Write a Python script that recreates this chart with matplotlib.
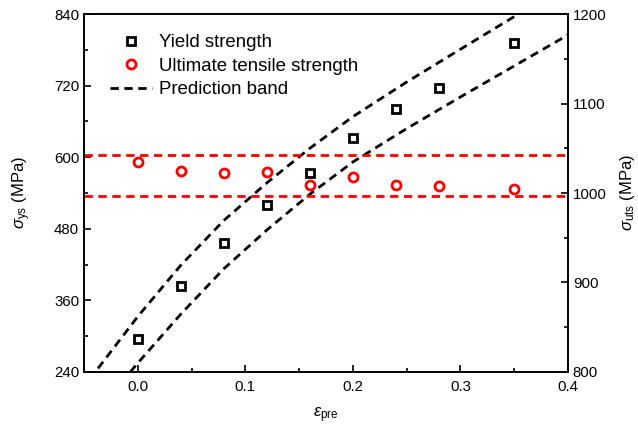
import numpy as np
import matplotlib
matplotlib.use("Agg")
import matplotlib.pyplot as plt
from matplotlib.ticker import MultipleLocator

plt.rcParams['font.family'] = ['Liberation Sans', 'DejaVu Sans']
plt.rcParams['mathtext.fontset'] = 'custom'
plt.rcParams['mathtext.rm'] = 'Liberation Sans'
plt.rcParams['mathtext.it'] = 'Liberation Sans:italic'

# pre-strain values
eps = [0.0, 0.04, 0.08, 0.12, 0.16, 0.20, 0.24, 0.28, 0.35]

# yield strength (left axis, MPa)
ys = [295, 384, 456, 520, 573, 633, 680, 716, 791]

# ultimate tensile strength (right axis, MPa)
uts = [1035, 1025, 1022, 1024, 1009, 1018, 1009, 1008, 1005]

# prediction band
band_up_x = [-0.037, 0.0, 0.04, 0.08, 0.12, 0.16, 0.20, 0.25, 0.30, 0.354]
band_up_y = [246, 333, 419, 494, 557, 615, 668, 726, 781, 840]
band_lo_x = [-0.007, 0.0, 0.04, 0.08, 0.12, 0.16, 0.20, 0.25, 0.30, 0.35, 0.40]
band_lo_y = [240, 255, 337, 413, 478, 538, 592, 648, 701, 753, 805]

# UTS band limits
uts_band = [1043, 997]

fig = plt.figure(figsize=(6.38, 4.30), dpi=100)
ax = fig.add_axes([0.1317, 0.1349, 0.7586, 0.8325])
ax2 = ax.twinx()

ax.plot(band_up_x, band_up_y, '--', color='black', lw=2, dashes=(3, 2))
ax.plot(band_lo_x, band_lo_y, '--', color='black', lw=2, dashes=(3, 2),
        label='Prediction band')
ax.plot(eps, ys, 's', ms=6, mfc='white', mec='black', mew=2,
        label='Yield strength')

for v in uts_band:
    ax2.axhline(v, color='red', lw=2, ls='--', dashes=(3, 2))
ax2.plot(eps, uts, 'o', ms=6.5, mfc='white', mec='red', mew=2,
         label='Ultimate tensile strength')

ax.set_xlim(-0.05, 0.4)
ax.set_ylim(240, 840)
ax2.set_ylim(800, 1200)

ax.set_xticks([0.0, 0.1, 0.2, 0.3, 0.4])
ax.xaxis.set_minor_locator(MultipleLocator(0.05))
ax.set_yticks([240, 360, 480, 600, 720, 840])
ax.yaxis.set_minor_locator(MultipleLocator(60))
ax2.set_yticks([800, 900, 1000, 1100, 1200])
ax2.yaxis.set_minor_locator(MultipleLocator(50))

for a in (ax, ax2):
    a.tick_params(which='major', direction='in', length=5, width=1.2, labelsize=10.8)
    a.tick_params(which='minor', direction='in', length=3, width=1.2)
    for s in a.spines.values():
        s.set_linewidth(1.2)
ax.tick_params(axis='x', pad=6)

ax.set_xlabel(r'$\varepsilon_{\rm pre}$', fontsize=12, labelpad=8)
ax.set_ylabel(r'$\sigma_{\rm ys}$ (MPa)', fontsize=12, labelpad=15)
ax2.set_ylabel(r'$\sigma_{\rm uts}$ (MPa)', fontsize=12, rotation=90, labelpad=8)

h1, l1 = ax.get_legend_handles_labels()
h2, l2 = ax2.get_legend_handles_labels()
handles = [h1[1], h2[0], h1[0]]
labels = [l1[1], l2[0], l1[0]]
ax2.legend(handles, labels, loc='upper left', bbox_to_anchor=(0.019, 0.99),
           frameon=False, fontsize=13.4, handlelength=2.26, handletextpad=0.35,
           labelspacing=0.35)

fig.savefig('out.png', dpi=100)
